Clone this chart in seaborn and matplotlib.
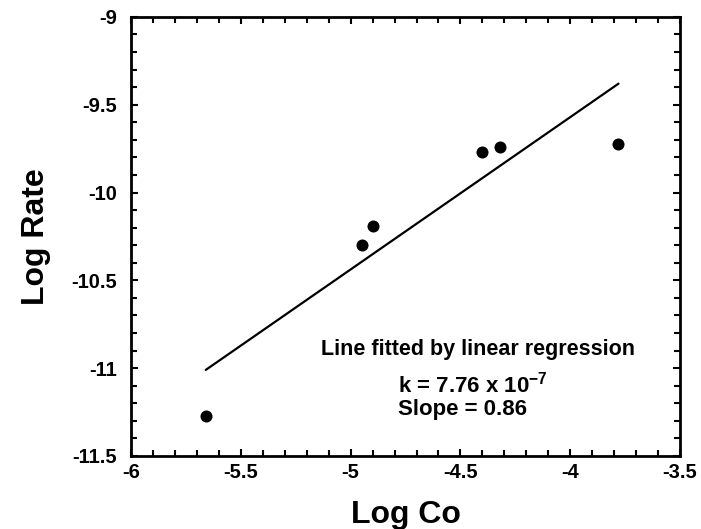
import numpy as np
import pandas as pd
import seaborn as sns
from matplotlib import pyplot as plt
from matplotlib.ticker import MultipleLocator, FuncFormatter

# measured points (log Co, log rate)
log_co = [-5.66, -4.95, -4.90, -4.40, -4.32, -3.78]
log_rate = [-11.27, -10.30, -10.19, -9.77, -9.74, -9.725]

# fitted line end points as drawn
fit_x = [-5.66, -3.78]
fit_y = [-11.01, -9.38]

x_ticks = [-6, -5.5, -5, -4.5, -4, -3.5]
y_ticks = [-11.5, -11, -10.5, -10, -9.5, -9]

sns.set_style("ticks")
plt.rcParams["font.family"] = ["Liberation Sans", "DejaVu Sans"]
plt.rcParams["font.weight"] = "bold"
plt.rcParams["axes.unicode_minus"] = False
plt.rcParams["mathtext.fontset"] = "custom"
plt.rcParams["mathtext.bf"] = "Liberation Sans:bold"
plt.rcParams["mathtext.rm"] = "Liberation Sans:bold"
plt.rcParams["mathtext.default"] = "bf"
for key in ["text.color", "axes.labelcolor", "xtick.color", "ytick.color"]:
    plt.rcParams[key] = "black"

df = pd.DataFrame({"log_co": log_co, "log_rate": log_rate})
df_fit = pd.DataFrame({"x": fit_x, "y": fit_y})

fig = plt.figure(figsize=(7.01, 5.29), dpi=100)
ax = fig.add_axes([0.187, 0.138, 0.783, 0.830])

sns.lineplot(data=df_fit, x="x", y="y", color="black", linewidth=1.6, ax=ax)
sns.scatterplot(data=df, x="log_co", y="log_rate", color="black", s=75,
                edgecolor="black", linewidth=0, ax=ax, zorder=3)

ax.set_xlim(x_ticks[0], x_ticks[-1])
ax.set_ylim(y_ticks[0], y_ticks[-1])
ax.set_xticks(x_ticks)
ax.set_yticks(y_ticks)
ax.xaxis.set_minor_locator(MultipleLocator(0.1))
ax.yaxis.set_minor_locator(MultipleLocator(0.1))
fmt = FuncFormatter(lambda v, p: f"{v:g}")
ax.xaxis.set_major_formatter(fmt)
ax.yaxis.set_major_formatter(fmt)

ax.tick_params(which="both", direction="in", top=True, right=True,
               width=1.5, color="black")
ax.tick_params(which="major", length=5)
ax.tick_params(which="minor", length=4)
ax.tick_params(axis="x", which="major", labelsize=14.5, pad=5)
ax.tick_params(axis="y", which="major", labelsize=14.5, pad=10)
for lab in ax.get_xticklabels() + ax.get_yticklabels():
    lab.set_fontweight("bold")

for side in ["left", "right", "top", "bottom"]:
    ax.spines[side].set_visible(True)
    ax.spines[side].set_linewidth(2)
    ax.spines[side].set_color("black")

ax.set_xlabel("Log Co", fontsize=23, fontweight="bold", labelpad=13)
ax.set_ylabel("Log Rate", fontsize=23, fontweight="bold", labelpad=15)

ax.text(-4.422, -10.896, "Line fitted by linear regression", ha="center",
        va="center", fontsize=15.5, fontweight="bold")
ax.text(-4.784, -11.096, r"k = 7.76 x 10$^{\mathbf{-7}}$", ha="left",
        va="center", fontsize=16, fontweight="bold")
ax.text(-4.784, -11.238, "Slope = 0.86", ha="left", va="center",
        fontsize=16, fontweight="bold")

plt.savefig("out.png", dpi=100)
